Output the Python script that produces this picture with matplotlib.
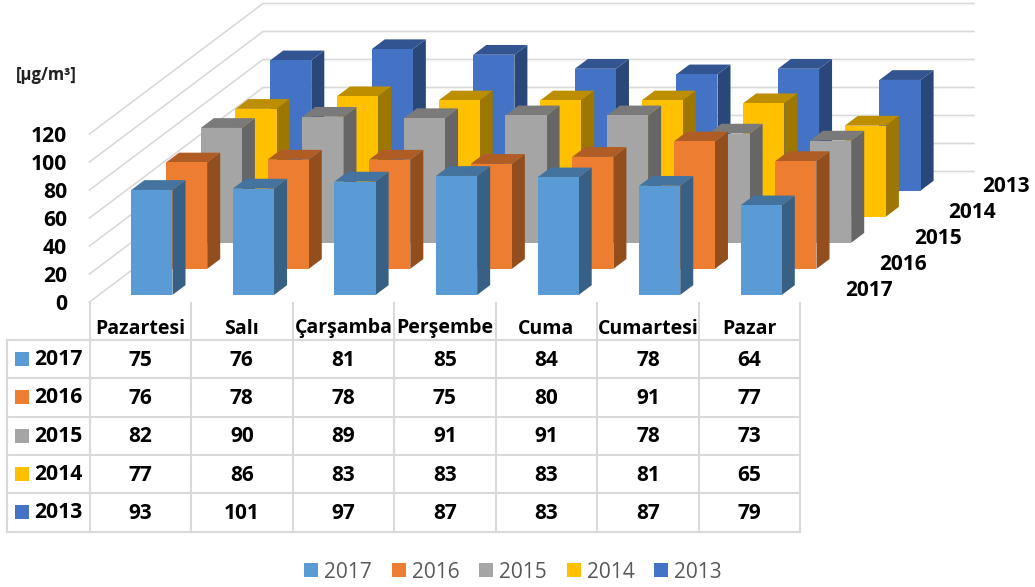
import matplotlib
matplotlib.use("Agg")
import matplotlib.pyplot as plt
from matplotlib.patches import Patch, Polygon, Rectangle
from matplotlib.colors import to_rgb

days = ["Pazartesi", "Salı", "Çarşamba", "Perşembe", "Cuma", "Cumartesi", "Pazar"]
years = ["2017", "2016", "2015", "2014", "2013"]
v2017 = [75, 76, 81, 85, 84, 78, 64]
v2016 = [76, 78, 78, 75, 80, 91, 77]
v2015 = [82, 90, 89, 91, 91, 78, 73]
v2014 = [77, 86, 83, 83, 83, 81, 65]
v2013 = [93, 101, 97, 87, 83, 87, 79]
series = [v2017, v2016, v2015, v2014, v2013]
colors = ["#5B9BD5", "#ED7D31", "#A5A5A5", "#FFC000", "#4472C4"]
y_ticks = [0, 20, 40, 60, 80, 100, 120]

plt.rcParams['font.family'] = ['Open Sans', 'DejaVu Sans']
grid = "#d9d9d9"

# the picture is an oblique 3d view, so project (category, depth, value) by hand
x0, y0 = 89.5, 302.0
cat_w = 101.55
dep_x, dep_y = 34.7, -26.1
val_h = 1.4
bar_w = 0.405
bar_d = 0.375


def proj(c, d, v):
    return (x0 + c * cat_w + d * dep_x, y0 + d * dep_y - v * val_h)


def shade(col, f):
    return tuple(a * f for a in to_rgb(col))


fig = plt.figure(figsize=(10.35, 5.87), dpi=100)
ax = fig.add_axes([0, 0, 1, 1])
ax.set_xlim(0, 1035)
ax.set_ylim(587, 0)
ax.axis("off")

# walls
n_cat = len(days)
n_dep = len(years)
for t in y_ticks:
    a = proj(0, 0, t)
    b = proj(0, n_dep, t)
    c = proj(n_cat, n_dep, t)
    ax.plot([a[0], b[0], c[0]], [a[1], b[1], c[1]], color=grid, lw=1.2, zorder=1)
    ax.text(67, a[1] + 2.5, str(t), ha="right", va="center", fontsize=15.2, fontweight="bold", color="black")

ax.text(46.5, 75, "[µg/m³]", ha="center", va="center", fontsize=12, fontweight="bold", color="#222222")

# bars, back row first
z = 2
for d in range(n_dep - 1, -1, -1):
    vals = series[d]
    col = colors[d]
    for c in range(n_cat):
        v = vals[c]
        cl = c + 0.32
        cr = cl + bar_w
        df = d + 0.27
        db = df + bar_d
        front = [proj(cl, df, 0), proj(cr, df, 0), proj(cr, df, v), proj(cl, df, v)]
        side = [proj(cr, df, 0), proj(cr, db, 0), proj(cr, db, v), proj(cr, df, v)]
        top = [proj(cl, df, v), proj(cr, df, v), proj(cr, db, v), proj(cl, db, v)]
        ax.add_patch(Polygon(side, closed=True, fc=shade(col, 0.62), ec="none", zorder=z))
        ax.add_patch(Polygon(top, closed=True, fc=shade(col, 0.74), ec="none", zorder=z))
        ax.add_patch(Polygon(front, closed=True, fc=col, ec="none", zorder=z))
    z += 1

# depth axis labels, they step a bit less than the floor does
for d in range(n_dep):
    ax.text(869 + d * 34.3, 291 - d * 26, years[d], ha="center", va="center", fontsize=15, fontweight="bold", color="black", zorder=10)

# data table
row_top = 340
row_h = 38.3
left = 7
right = x0 + n_cat * cat_w
for r in range(n_dep + 1):
    ax.plot([left, right], [row_top + r * row_h] * 2, color=grid, lw=1.5, zorder=1)
ax.plot([left, left], [row_top, row_top + n_dep * row_h], color=grid, lw=1.5, zorder=1)
for c in range(n_cat + 1):
    xc = x0 + c * cat_w
    ax.plot([xc, xc], [303, row_top + n_dep * row_h], color=grid, lw=1.5, zorder=1)
for c in range(n_cat):
    xc = x0 + (c + 0.5) * cat_w
    ax.text(xc, 328.5, days[c], ha="center", va="center", fontsize=14, fontweight="bold", color="black")
for d in range(n_dep):
    yc = row_top + (d + 0.5) * row_h
    ax.add_patch(Rectangle((15, yc - 7), 14, 14, fc=colors[d], ec="none"))
    ax.text(34, yc + 0.5, years[d], ha="left", va="center", fontsize=15.2, fontweight="bold", color="black")
    for c in range(n_cat):
        xc = x0 + (c + 0.5) * cat_w
        ax.text(xc, yc + 1, str(series[d][c]), ha="center", va="center", fontsize=15, fontweight="bold", color="black")

# legend
handles = [Patch(fc=colors[i], ec="none", label=years[i]) for i in range(n_dep)]
ax.legend(handles=handles, loc="center", bbox_to_anchor=(513, 572), bbox_transform=ax.transData,
          ncol=5, frameon=False, fontsize=15, labelcolor="#595959",
          handlelength=0.67, handleheight=0.67, handletextpad=0.29, columnspacing=0.95, borderpad=0)

fig.savefig("out.png", dpi=100)
